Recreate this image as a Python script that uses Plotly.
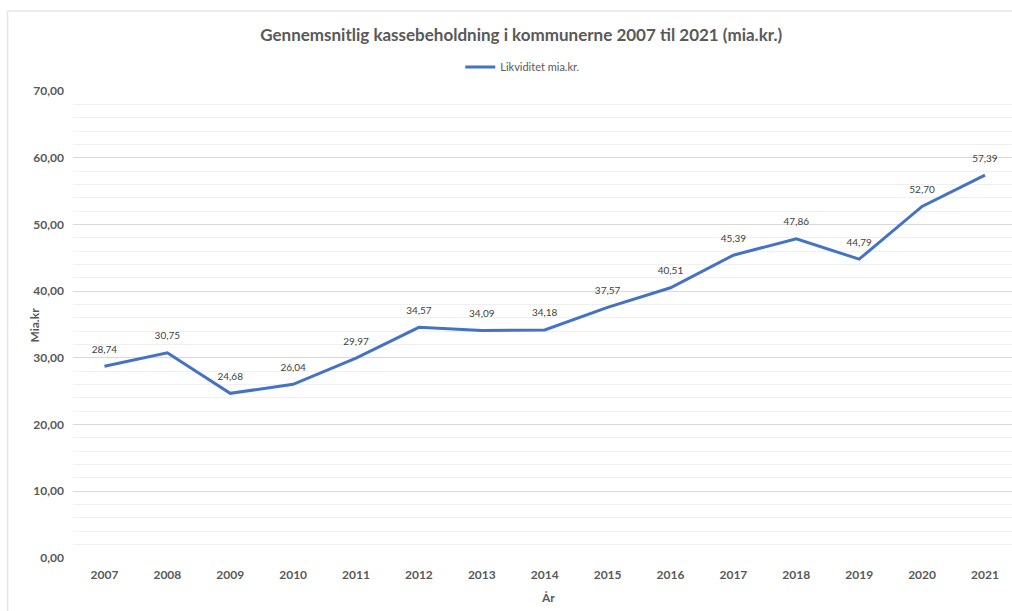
import plotly.graph_objects as go

years = ["2007", "2008", "2009", "2010", "2011", "2012", "2013", "2014",
         "2015", "2016", "2017", "2018", "2019", "2020", "2021"]
values = [28.74, 30.75, 24.68, 26.04, 29.97, 34.57, 34.09, 34.18,
          37.57, 40.51, 45.39, 47.86, 44.79, 52.70, 57.39]
labels = [f"{v:.2f}".replace(".", ",") for v in values]
ytick_vals = [0, 10, 20, 30, 40, 50, 60, 70]
ytick_text = [f"{v:.2f}".replace(".", ",") for v in ytick_vals]

FONT = "Lato, Roboto, sans-serif"
GRAY = "#595959"

fig = go.Figure()
fig.add_trace(go.Scatter(
    x=years, y=values, mode="lines+markers+text", name="Likviditet mia.kr.",
    line=dict(color="#4472C4", width=3),
    marker=dict(size=16, color="rgba(0,0,0,0)"),
    text=labels, textposition="top center",
    textfont=dict(family=FONT, size=10, color="#404040"),
    cliponaxis=False,
))

L, T, B = 72.5, 91, 53
W, H = 1012, 611
pw = W - L
ph = H - T - B

fig.update_layout(
    width=W, height=H,
    margin=dict(l=L, r=0, t=T, b=B, autoexpand=False),
    paper_bgcolor="white", plot_bgcolor="white",
    font=dict(family=FONT, color=GRAY),
    title=dict(text="<b>Gennemsnitlig kassebeholdning i kommunerne 2007 til 2021 (mia.kr.)</b>",
               x=0.515, xanchor="center", y=1 - 35 / H, yanchor="middle",
               font=dict(family=FONT, size=17, color=GRAY)),
    showlegend=True,
    legend=dict(orientation="h", x=(522 - L) / pw, xanchor="center",
                y=(H - B - 67) / ph, yanchor="middle",
                font=dict(family=FONT, size=11, color=GRAY),
                itemwidth=30,
                bgcolor="rgba(0,0,0,0)"),
    xaxis=dict(type="category", range=[-0.5, 14.43], automargin=False,
               showgrid=False, zeroline=False, showline=False,
               ticks="", tickfont=dict(family=FONT, size=12, color=GRAY),
               tickvals=years, ticktext=["<b>" + y + "</b>" for y in years],
               ticklabelstandoff=8),
    yaxis=dict(range=[0, 70], tickvals=ytick_vals, ticktext=[f"<b>{t}</b>" for t in ytick_text],
               automargin=False,
               showgrid=True, gridcolor="#D9D9D9", gridwidth=1.3,
               zeroline=False, showline=False, ticks="",
               tickfont=dict(family=FONT, size=12, color=GRAY), ticklabelstandoff=8,
               minor=dict(dtick=2, tick0=0, showgrid=True, gridcolor="#F0F0F0", gridwidth=1)),
)

# axis titles
fig.add_annotation(text="<b>År</b>", xref="paper", yref="paper",
                   x=(548 - L) / pw, y=(H - B - 597) / ph, showarrow=False,
                   xanchor="center", yanchor="middle",
                   font=dict(family=FONT, size=12, color=GRAY))
fig.add_annotation(text="<b>Mia.kr</b>", xref="paper", yref="paper",
                   x=(33 - L) / pw, y=(H - B - 325) / ph, showarrow=False, textangle=-90,
                   xanchor="center", yanchor="middle",
                   font=dict(family=FONT, size=12, color=GRAY))

# light chart frame
fig.add_shape(type="line", xref="paper", yref="paper",
              x0=(7 - L) / pw, x1=(7 - L) / pw, y0=(H - B - 611) / ph, y1=(H - B - 11) / ph,
              line=dict(color="#E6E6E6", width=1.5))
fig.add_shape(type="line", xref="paper", yref="paper",
              x0=(7 - L) / pw, x1=1.0, y0=(H - B - 11) / ph, y1=(H - B - 11) / ph,
              line=dict(color="#E6E6E6", width=1.5))

fig.write_html("out.html", config={"displayModeBar": False},
               post_script="document.body.style.margin='0';document.body.style.overflow='hidden';")
